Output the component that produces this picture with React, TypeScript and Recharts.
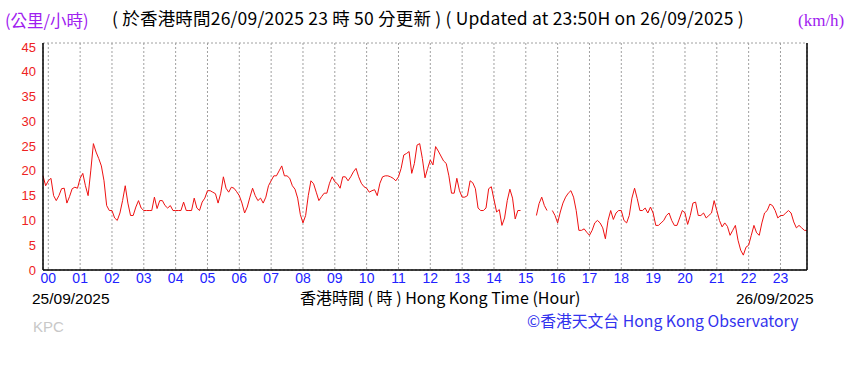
import React from 'react';
import { LineChart, Line, XAxis, YAxis, CartesianGrid } from 'recharts';

const hourLabels = ['00','01','02','03','04','05','06','07','08','09','10','11','12','13','14','15','16','17','18','19','20','21','22','23'];
const hourTicks = hourLabels.map((_, i) => i * 60);
const speedTicks = [0, 5, 10, 15, 20, 25, 30, 35, 40, 45];

// 10-minute mean wind speed (km/h), sampled every 5 minutes starting 10 minutes before 00
const startMinute = -10;
const stepMinutes = 5;
const lead = [19, 17];
const h00 = [18, 18.5, 15, 14, 15, 16.4, 16.5, 13.5, 14.8, 16.4, 16.7, 16.5];
const h01 = [18.5, 19.5, 17, 15, 20, 25.5, 23.8, 22.5, 21, 18, 13, 12];
const h02 = [12, 10.5, 10, 11.5, 14, 17, 13.5, 11, 11, 12.7, 14, 12.5];
const h03 = [12, 12, 12, 12, 14.7, 12.4, 14, 14, 13, 12.5, 13, 12];
const h04 = [12, 12, 12, 13.7, 12, 12, 12, 14.5, 12.5, 12, 13.7, 14.5];
const h05 = [16, 16, 15.7, 15.4, 13.5, 15.5, 18.8, 16.5, 15.7, 16.7, 16.5, 15.8];
const h06 = [15, 13.5, 11.5, 12.7, 14.7, 16.5, 15, 14, 14.5, 13.5, 14.7, 17];
const h07 = [18, 19, 19, 20, 21, 19, 19, 18.5, 17, 16.3, 14.5, 11.2];
const h08 = [9.5, 11, 15, 18, 17.4, 15.7, 14, 14.8, 15.5, 15.5, 17.5, 18.8];
const h09 = [17.8, 17.4, 16.5, 18.8, 18.8, 18, 18.8, 19.8, 20.5, 18.8, 17.5, 16.8];
const h10 = [16.5, 15.7, 16, 16.2, 15, 17.5, 18.8, 19, 19, 18.8, 18.5, 18];
const h11 = [18.8, 20.5, 23.2, 23.5, 23.9, 19.5, 21.5, 25.2, 25.5, 22.5, 18.6, 20.5];
const h12 = [22.2, 21.2, 24.9, 24, 23, 22, 21.5, 19, 15.5, 15.5, 18.5, 16];
const h13 = [14.7, 14.7, 15, 18, 17.6, 16.4, 12.5, 12, 12, 12.5, 16.4, 16.8];
const h14 = [14.2, 11.7, 12.2, 9, 10.5, 14, 16.3, 14.5, 10.3, 12, 12, null];
const h15 = [null, null, null, null, 11, 13.4, 14.7, 13, 12, null, 12, 11];
const h16 = [9.5, 11.7, 13.5, 14.7, 15.5, 16, 14.7, 12, 8, 8, 8.3, 7.6];
const h17 = [7, 8, 9.5, 10, 9.5, 8.5, 6.3, 10, 12, 10.2, 11.5, 12];
const h18 = [12, 10, 9.5, 11, 14.5, 16.5, 14.4, 12, 12, 12.5, 11.5, 12.7];
const h19 = [11.5, 9, 9, 9.5, 10, 11, 11.5, 10, 9, 9, 10.5, 12];
const h20 = [11.5, 9.2, 11, 13.5, 13.7, 11, 11, 11.5, 10.5, 11, 11.5, 14];
const h21 = [12, 10, 8.7, 9.5, 8.8, 7, 8, 9, 6, 4, 3, 4.6];
const h22 = [5, 7, 9, 7.5, 7, 9.5, 11.5, 12, 13.3, 13, 12, 10.5];
const h23 = [11, 11, 11.5, 12, 11.5, 9.7, 8.5, 9, 8.5, 8, 8];

const hourly = [h00, h01, h02, h03, h04, h05, h06, h07, h08, h09, h10, h11, h12, h13, h14, h15, h16, h17, h18, h19, h20, h21, h22, h23];
const speeds: (number | null)[] = [...lead, ...hourly.flat()];
const data = speeds.map((v, i) => ({ t: startMinute + i * stepMinutes, v }));

const titleText = '( 於香港時間26/09/2025 23 時 50 分更新 ) ( Updated at 23:50H on 26/09/2025 )';
const unitLeft = '(公里/小時)';
const unitRight = '(km/h)';
const dateStart = '25/09/2025';
const dateEnd = '26/09/2025';
const xTitle = '香港時間 ( 時 )  Hong Kong Time (Hour)';
const stationCode = 'KPC';
const credit = '©香港天文台 Hong Kong Observatory';

const sans = '"Liberation Sans", "Noto Sans CJK TC", Arial, sans-serif';
const cjk = '"Noto Sans CJK TC", "Liberation Sans", sans-serif';

const abs = (left: number, top: number, extra: React.CSSProperties = {}): React.CSSProperties => ({
  position: 'absolute', left, top, whiteSpace: 'nowrap', lineHeight: 1, ...extra,
});

export default function App() {
  return (
    <div style={{ position: 'absolute', left: 0, top: 0, width: 861, height: 392, background: '#fff', fontFamily: sans }}>
      <LineChart width={861} height={392} data={data} margin={{ top: 43, right: 0, bottom: 92, left: 0 }}>
        <CartesianGrid stroke="#a0a0a0" strokeDasharray="2 2" />
        <XAxis
          dataKey="t"
          type="number"
          domain={[-10, 1430]}
          ticks={hourTicks}
          tickFormatter={(v: number) => hourLabels[Math.round(v / 60)]}
          axisLine={{ stroke: '#000', strokeWidth: 1.5 }}
          tickLine={false}
          tickSize={2}
          tickMargin={1}
          height={30}
          interval={0}
          tick={{ fill: '#2222ff', fontSize: 14, fontFamily: sans }}
        />
        <YAxis
          yAxisId="l"
          domain={[0, 45.8]}
          ticks={speedTicks}
          width={43}
          axisLine={{ stroke: '#000', strokeWidth: 1.5 }}
          tickLine={false}
          tickSize={3}
          tickMargin={4}
          interval={0}
          tick={{ fill: '#ee2222', fontSize: 13, fontFamily: sans }}
        />
        <YAxis
          yAxisId="r"
          orientation="right"
          domain={[0, 45.8]}
          ticks={speedTicks}
          width={54}
          axisLine={{ stroke: '#000', strokeWidth: 1.5 }}
          tickLine={{ stroke: '#000' }}
          tickSize={3}
          tickMargin={0}
          interval={0}
          tick={{ fill: '#ee2222', fontSize: 13, fontFamily: sans }}
        />
        <Line
          yAxisId="l"
          dataKey="v"
          type="linear"
          stroke="#ee1111"
          strokeWidth={1}
          dot={false}
          connectNulls={false}
          isAnimationActive={false}
        />
      </LineChart>
      <div style={abs(5, 12, { color: '#a020f0', fontSize: 16.5, fontFamily: cjk })}>{unitLeft}</div>
      <div style={abs(112, 9, { color: '#000', fontSize: 17.5, fontFamily: cjk, letterSpacing: 0.2 })}>{titleText}</div>
      <div style={abs(798, 12, { color: '#a020f0', fontSize: 17, fontFamily: '"Liberation Serif", serif' })}>{unitRight}</div>
      <div style={abs(32, 291, { color: '#000', fontSize: 15.5 })}>{dateStart}</div>
      <div style={abs(300, 289, { color: '#000', fontSize: 16, fontFamily: cjk })}>{xTitle}</div>
      <div style={abs(736, 291, { color: '#000', fontSize: 15.5 })}>{dateEnd}</div>
      <div style={abs(33, 319, { color: '#c8c8c8', fontSize: 15 })}>{stationCode}</div>
      <div style={abs(527, 313, { color: '#3333ee', fontSize: 15.8, fontFamily: cjk })}>{credit}</div>
    </div>
  );
}
